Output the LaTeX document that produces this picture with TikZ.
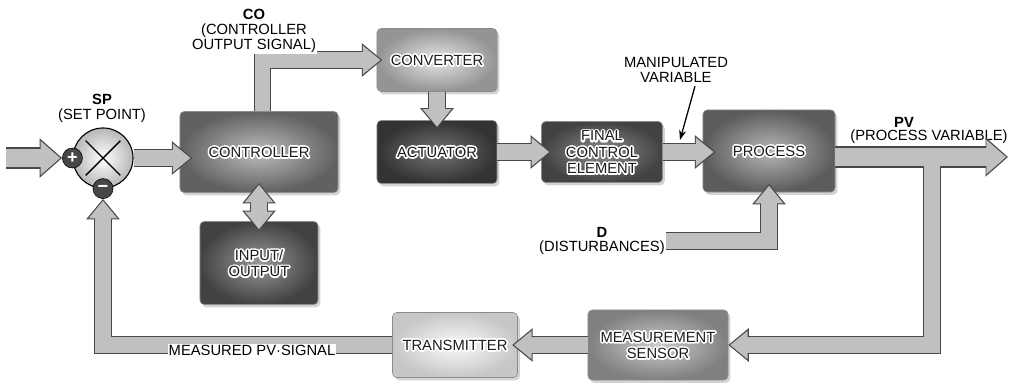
\documentclass[tikz,border=0pt]{standalone}
\usepackage{fontspec}
\setmainfont{Liberation Sans}
\usetikzlibrary{arrows.meta, shadows, calc}
\definecolor{pipefill}{RGB}{192,192,192}
\definecolor{pipeedge}{RGB}{72,72,72}
\definecolor{blocktext}{RGB}{28,28,28}
% white halo: one stroked copy under the filled text
\newcommand{\hl}[1]{\leavevmode\rlap{\special{pdf:literal direct 1 Tr 2.4 w 1 j 1 J 1 1 1 RG}#1\special{pdf:literal direct 0 Tr}}#1}

\tikzset{
  block/.style 2 args={rectangle, rounded corners=3pt, inner color=#1, outer color=#2,
    draw=black!45, line width=.4pt, align=center, text=blocktext,
    font=\fontsize{10.5}{11.5}\selectfont,
    drop shadow={shadow xshift=1.6pt, shadow yshift=-2pt, opacity=.35}},
  pipe core/.style={line width=10.7pt, draw=pipefill},
  pipe rim/.style={line width=12.4pt, draw=pipeedge},
  flow/.style={pipe core, shorten >=1.3pt, -{Triangle[length=12.5pt,width=19.5pt]},
    preaction={pipe rim, shorten >=0pt, -{Triangle[length=14.6pt,width=23pt]}}},
  flow both/.style={pipe core, shorten >=1.3pt, shorten <=1.3pt,
    {Triangle[length=12.5pt,width=19.5pt]}-{Triangle[length=12.5pt,width=19.5pt]},
    preaction={pipe rim, shorten >=0pt, shorten <=0pt,
      {Triangle[length=14.6pt,width=23pt]}-{Triangle[length=14.6pt,width=23pt]}}},
  big flow/.style={line width=13.5pt, draw=pipefill, shorten >=1.3pt,
    -{Triangle[length=14pt,width=23.4pt]},
    preaction={draw=pipeedge, line width=15.2pt, shorten >=0pt,
      -{Triangle[length=16pt,width=27pt]}}},
  sumnode/.style={circle, minimum size=1.5cm, draw=black, line width=.8pt,
    inner color=white, outer color=black!28},
  signnode/.style={circle, minimum size=0.5cm, inner sep=0pt, fill=black!72,
    draw=black, text=white, font=\fontsize{13}{13}\selectfont\bfseries},
  crossline/.style={line width=1pt, shorten >=4.3pt, shorten <=4.3pt},
  pointer/.style={line width=.9pt, -{Stealth[length=7pt,width=5pt]}},
  tag/.style={align=center, inner sep=1pt}
}

\begin{document}
\begin{tikzpicture}[x=0.025cm, y=-0.025cm, font=\fontsize{10.5}{10.5}\selectfont]
  \useasboundingbox (0,0) rectangle (1015,383);

  % Summing junction
  \node[sumnode] (sum) at (103,158) {};
  \draw[crossline] (sum.north west) -- (sum.south east);
  \draw[crossline] (sum.north east) -- (sum.south west);
  \node[signnode] (plus) at (sum.west) {+};
  \node[signnode] (minus) at (sum.south) {−};

  % Blocks
  \node[block={black!26}{black!62}, minimum width=3.95cm, minimum height=2.025cm] (ctrl) at (259,152) {\hl{CONTROLLER}};
  \node[block={black!10}{black!42}, minimum width=3cm, minimum height=1.575cm] (conv) at (437,60) {\hl{CONVERTER}};
  \node[block={black!55}{black!80}, minimum width=3cm, minimum height=1.575cm] (act) at (437,152) {\hl{ACTUATOR}};
  \node[block={black!45}{black!74}, minimum width=3.025cm, minimum height=1.525cm] (fce) at (602,152) {\hl{FINAL}\\\hl{CONTROL}\\\hl{ELEMENT}};
  \node[block={black!28}{black!64}, minimum width=3.3cm, minimum height=2.05cm] (proc) at (769,151) {\hl{PROCESS}};
  \node[block={black!40}{black!74}, minimum width=2.95cm, minimum height=2.075cm] (io) at (259,263) {\hl{INPUT/}\\\hl{OUTPUT}};
  \node[block={black!20}{black!50}, minimum width=3.5cm, minimum height=1.75cm] (sens) at (658,345) {\hl{MEASUREMENT}\\\hl{SENSOR}};
  \node[block={black!2}{black!22}, minimum width=3.125cm, minimum height=1.625cm] (trans) at (455,345) {\hl{TRANSMITTER}};

  % Labels
  \node[tag] (sp) at (102,108) {\textbf{SP}\\(SET POINT)};
  \node[tag] (mv) at (676,70) {MANIPULATED\\VARIABLE};
  \node[tag] (pv) at (904,122) {\textbf{PV}};
  \node[tag] (pvtext) at (929,137) {(PROCESS VARIABLE)};
  \node[tag] (dist) at (602,241) {\textbf{D}\\(DISTURBANCES)};

  % Forward path
  \coordinate (src) at (6,158);
  \coordinate (pvend) at (1008,157);
  \coordinate (tap) at (932,157);
  \coordinate (mvtip) at (680,140);
  \draw[big flow] (src) -- (plus.west);
  \draw[flow] (sum.east) -- ([xshift=9pt]sum.east -| ctrl.west);
  \draw[flow] ([xshift=2.5pt]ctrl.north) |- ([xshift=4pt]conv.west);
  \draw[flow] (conv.south) -- ([yshift=-6pt]act.north);
  \draw[flow] (act.east) -- ([xshift=7pt]act.east -| fce.west);
  \draw[flow] (fce.east) -- ([xshift=9pt]fce.east -| proc.west);
  \draw[flow both] ([yshift=7pt]ctrl.south) -- ([yshift=-7pt]io.north);
  \draw[flow] (dist.east) -| ([yshift=6pt]proc.south);

  % Feedback path
  \draw[flow] (tap) |- (sens.east);
  \draw[big flow] (proc.east |- pvend) -- (pvend);
  \draw[pipe core] (tap) -- ++(0,14);
  \draw[flow] (sens.west) -- ([xshift=-4pt]trans.east);
  \draw[flow] (trans.west) -| (minus.south);

  \node[tag, fill=white] (co) at (254,31) {\textbf{CO}\\(CONTROLLER\\OUTPUT SIGNAL)};
  \node[tag, fill=white, inner sep=.5pt] (mpv) at (252,350) {MEASURED PV·SIGNAL};
  \draw[pointer] ($(mv.south)+(19,2)$) -- (mvtip);
\end{tikzpicture}
\end{document}
